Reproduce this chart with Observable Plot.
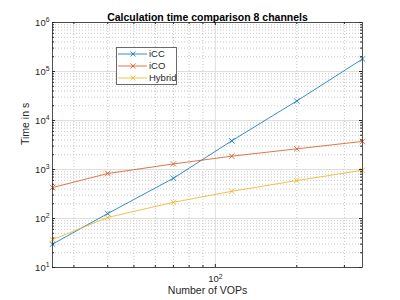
<!DOCTYPE html>
<html><head><meta charset="utf-8">
<script src="https://cdn.jsdelivr.net/npm/d3@7"></script>
<script src="https://cdn.jsdelivr.net/npm/@observablehq/plot@0.6"></script>
<style>
body{margin:0;background:#fff;font-family:"Liberation Sans",Arial,sans-serif;}
#wrap{position:relative;width:400px;height:300px;}
#legend{position:absolute;left:116px;top:47px;width:61px;height:38px;border:1px solid #6a6a6a;background:#fff;box-sizing:border-box;font-size:9.5px;color:#262626;}
.row{position:absolute;left:0;height:12px;width:59px;}
.row svg{position:absolute;left:0;top:0;}
.row span{position:absolute;left:32px;top:0;line-height:12px;}
</style></head><body><div id="wrap"><div id="legend"></div></div>
<script>
const chartTitle = "Calculation time comparison 8 channels";
const xLabel = "Number of VOPs";
const yLabel = "Time in s";
const vops = [25, 40, 70, 115, 200, 350];
const timeICC = [30, 126, 663, 3850, 25000, 180000];
const timeICO = [428, 828, 1300, 1870, 2640, 3740];
const timeHybrid = [37, 105, 214, 359, 594, 966];
const seriesNames = ["iCC", "iCO", "Hybrid"];
const seriesColors = ["#0072BD", "#D95319", "#EDB120"];
const xMajorTicks = [100];
const xMinorTicks = [30, 40, 50, 60, 70, 80, 90, 200, 300];
const yMajorTicks = [10, 100, 1000, 10000, 100000, 1000000];
const yMinorTicks = [1, 2, 3, 4, 5].flatMap(k => [2,3,4,5,6,7,8,9].map(m => m * Math.pow(10, k)));

const seriesValues = [timeICC, timeICO, timeHybrid];
const rows = seriesNames.flatMap((s, i) => vops.map((v, j) => ({series: s, vops: v, time: seriesValues[i][j]})));

const fmt = d => "10^" + Math.round(Math.log10(d));
const frameH = 300 - 22 - 33, frameW = 400 - 52 - 38;
const axisColor = "#262626";

const plot = Plot.plot({
  width: 400, height: 300,
  marginLeft: 52, marginRight: 38, marginTop: 22, marginBottom: 33,
  style: {fontFamily: "'Liberation Sans', Arial, sans-serif", fontSize: "9.5px", color: axisColor, background: "#fff"},
  x: {type: "log", domain: [25, 350]},
  y: {type: "log", domain: [10, 1e6]},
  color: {domain: seriesNames, range: seriesColors},
  marks: [
    Plot.gridX(xMinorTicks, {stroke: "#c8c8c8", strokeOpacity: 1, strokeDasharray: "1,2"}),
    Plot.gridY(yMinorTicks, {stroke: "#c8c8c8", strokeOpacity: 1, strokeDasharray: "1,2"}),
    Plot.gridX(xMajorTicks, {stroke: "#dedede", strokeOpacity: 1}),
    Plot.gridY(yMajorTicks, {stroke: "#dedede", strokeOpacity: 1}),
    Plot.line(rows, {x: "vops", y: "time", z: "series", stroke: "series", strokeWidth: 0.8}),
    Plot.dot(rows, {x: "vops", y: "time", stroke: "series", symbol: "times", r: 2.6, strokeWidth: 0.8}),
    Plot.tickX(xMajorTicks, {x: d => d, insetTop: frameH - 3, stroke: axisColor}),
    Plot.tickX(xMajorTicks, {x: d => d, insetBottom: frameH - 3, stroke: axisColor}),
    Plot.tickX(xMinorTicks, {x: d => d, insetTop: frameH - 2, stroke: axisColor}),
    Plot.tickX(xMinorTicks, {x: d => d, insetBottom: frameH - 2, stroke: axisColor}),
    Plot.tickY(yMajorTicks, {y: d => d, insetRight: frameW - 3, stroke: axisColor}),
    Plot.tickY(yMajorTicks, {y: d => d, insetLeft: frameW - 3, stroke: axisColor}),
    Plot.tickY(yMinorTicks, {y: d => d, insetRight: frameW - 2, stroke: axisColor}),
    Plot.tickY(yMinorTicks, {y: d => d, insetLeft: frameW - 2, stroke: axisColor}),
    Plot.frame({stroke: axisColor, strokeWidth: 0.8}),
    Plot.axisX({ticks: xMajorTicks, tickSize: 0, tickPadding: 7.5, tickFormat: fmt, label: null}),
    Plot.axisY({ticks: yMajorTicks, tickSize: 0, tickPadding: 3, tickFormat: fmt, label: null}),
    Plot.text([chartTitle], {text: d => d, frameAnchor: "top", dy: -8.5, fontWeight: "bold", fontSize: 10.5, fill: "#000"}),
    Plot.text([yLabel], {text: d => d, frameAnchor: "left", rotate: -90, dx: -27, fontSize: 10.5, fill: axisColor}),
    Plot.text([xLabel], {text: d => d, frameAnchor: "bottom", dy: 26, fontSize: 10.5, fill: axisColor})
  ]
});

d3.select(plot).selectAll("text").each(function() {
  const s = this.textContent;
  if (s.includes("^") && this.children.length === 0) {
    const [b, e] = s.split("^");
    this.textContent = b;
    d3.select(this).append("tspan").attr("dy", "-0.45em").attr("font-size", "0.72em").text(e);
  }
});

const wrap = document.getElementById("wrap");
wrap.insertBefore(plot, wrap.firstChild);

const legend = document.getElementById("legend");
seriesNames.forEach((name, i) => {
  const row = document.createElement("div");
  row.className = "row";
  row.style.top = (i * 12) + "px";
  const c = seriesColors[i];
  row.innerHTML = `<svg width="31" height="12"><line x1="1" x2="30" y1="6" y2="6" stroke="${c}" stroke-width="0.8"/><path d="M13.5,3.5L18.5,8.5M13.5,8.5L18.5,3.5" stroke="${c}" stroke-width="0.8"/></svg><span>${name}</span>`;
  legend.appendChild(row);
});
</script></body></html>
